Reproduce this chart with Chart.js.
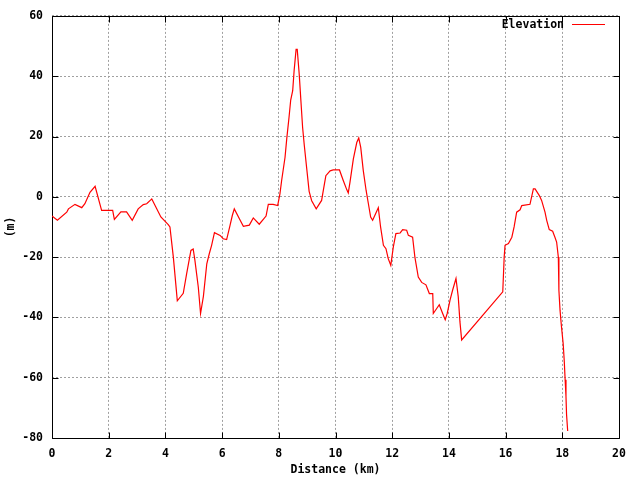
<!DOCTYPE html>
<html>
<head>
<meta charset="utf-8">
<script src="https://cdn.jsdelivr.net/npm/chart.js@4/dist/chart.umd.min.js"></script>
<style>
  html, body { margin: 0; padding: 0; background: #fff; }
  #wrap { width: 640px; height: 480px; }
</style>
</head>
<body>
<div id="wrap"><canvas id="c" width="640" height="480"></canvas></div>
<script>
const seriesName = "Elevation";
const xTitle = "Distance (km)";
const yTitle = "(m)";
const distanceKm = [
  0, 0.19, 0.52, 0.58, 0.81, 1.05, 1.16, 1.34, 1.52, 1.75, 2.14, 2.2, 2.43, 2.63, 2.83, 3.04, 3.22, 3.34, 3.52, 3.84,
  4.1, 4.16, 4.28, 4.37, 4.42, 4.63, 4.75, 4.9, 4.98, 5.04, 5.16, 5.24, 5.34, 5.46, 5.55, 5.63, 5.73, 5.93, 6.04, 6.16,
  6.28, 6.36, 6.43, 6.61, 6.75, 6.96, 7.1, 7.31, 7.55, 7.63, 7.8, 7.96, 8.04, 8.1, 8.22, 8.28, 8.36, 8.42, 8.49, 8.54,
  8.61, 8.65, 8.72, 8.78, 8.84, 8.9, 8.98, 9.07, 9.16, 9.32, 9.51, 9.59, 9.66, 9.81, 9.92, 10.14, 10.27, 10.4, 10.45, 10.51,
  10.63, 10.75, 10.82, 10.89, 10.98, 11.08, 11.16, 11.24, 11.31, 11.51, 11.59, 11.69, 11.78, 11.86, 11.95, 12.04, 12.13, 12.28, 12.37, 12.51,
  12.57, 12.72, 12.8, 12.92, 13.04, 13.19, 13.31, 13.43, 13.45, 13.66, 13.78, 13.87, 13.94, 14.04, 14.13, 14.25, 14.33, 14.39, 14.45, 15.9,
  15.95, 15.98, 16.1, 16.22, 16.3, 16.39, 16.51, 16.57, 16.86, 16.98, 17.04, 17.19, 17.27, 17.39, 17.45, 17.54, 17.66, 17.74, 17.8, 17.86,
  17.88, 17.92, 17.97, 18.03, 18.07, 18.1, 18.13, 18.15, 18.19
];
const elevationM = [
  -6.4, -7.8, -5.1, -4, -2.5, -3.6, -2.3, 1.5, 3.5, -4.5, -4.5, -7.5, -5, -5, -7.8, -4, -2.6, -2.3, -0.7, -6.7,
  -9.2, -10, -20, -29.3, -34.5, -32, -25.5, -17.8, -17.3, -21, -29.9, -38.7, -33, -22.2, -18.8, -16.1, -11.9, -12.8, -13.9, -14.2,
  -9.5, -6.2, -4, -7.3, -9.8, -9.4, -7.0, -9.1, -6.4, -2.5, -2.5, -2.9, 1, 5.4, 13.1, 19.2, 26.3, 32.1, 35.2, 41.8,
  48.9, 48.9, 40.7, 31.8, 23, 17, 9.8, 1.8, -1.3, -4, -1.2, 3.2, 7, 8.6, 8.9, 8.9, 5.5, 2.3, 1.3, 4.8,
  12.6, 18, 19.5, 16.4, 8.7, 2.1, -2.3, -6.7, -7.8, -3.6, -10, -16.1, -17.2, -20.5, -22.7, -16.6, -12.2, -12, -10.9, -11.1,
  -12.8, -13.4, -20, -26.6, -28.4, -29.2, -32.1, -32.1, -38.7, -35.8, -38.7, -40.8, -38.7, -34.3, -31, -27.1, -33.2, -41.5, -47.5, -31.5,
  -20, -16.1, -15.5, -13.4, -10, -5.1, -4.3, -2.9, -2.5, 2.6, 2.6, 0.4, -1.2, -5.1, -7.8, -10.9, -11.4, -13.4, -15, -20,
  -31, -37.6, -43, -48.6, -54.6, -60.7, -66.2, -72.2, -77.7
];
const xTicks = [0, 2, 4, 6, 8, 10, 12, 14, 16, 18, 20];
const yTicks = [-80, -60, -40, -20, 0, 20, 40, 60];

const FONT_FAMILY = "'DejaVu Sans Mono', 'Liberation Mono', monospace";
const FONT_SIZE = 11.5;

const points = distanceKm.map((x, i) => ({ x: x, y: elevationM[i] }));

const frame = {
  id: 'frame',
  beforeDatasetsDraw(chart) {
    const { ctx, chartArea: a, scales } = chart;
    const L = Math.round(a.left) + 0.5, R = Math.round(a.right) + 0.5;
    const T = Math.round(a.top) + 0.5, B = Math.round(a.bottom) + 0.5;
    ctx.save();
    ctx.strokeStyle = '#000';
    ctx.lineWidth = 1;
    ctx.setLineDash([]);
    ctx.beginPath();
    ctx.rect(L, T, R - L, B - T);
    const tl = 6;
    xTicks.forEach(v => {
      const px = Math.round(scales.x.getPixelForValue(v)) + 0.5;
      ctx.moveTo(px, B); ctx.lineTo(px, B - tl);
      ctx.moveTo(px, T); ctx.lineTo(px, T + tl);
    });
    yTicks.forEach(v => {
      const py = Math.round(scales.y.getPixelForValue(v)) + 0.5;
      ctx.moveTo(L, py); ctx.lineTo(L + tl, py);
      ctx.moveTo(R, py); ctx.lineTo(R - tl, py);
    });
    ctx.stroke();
    ctx.restore();
  },
  afterDraw(chart) {
    const { ctx } = chart;
    ctx.save();
    ctx.font = 'bold ' + FONT_SIZE + 'px ' + FONT_FAMILY;
    ctx.fillStyle = '#000';
    ctx.textAlign = 'right';
    ctx.textBaseline = 'middle';
    ctx.fillText(seriesName, 564, 25);
    ctx.strokeStyle = '#ff0000';
    ctx.lineWidth = 1;
    ctx.beginPath();
    ctx.moveTo(572, 24.5);
    ctx.lineTo(605, 24.5);
    ctx.stroke();
    ctx.restore();
  }
};

new Chart(document.getElementById('c'), {
  type: 'scatter',
  data: {
    datasets: [{
      label: seriesName,
      data: points,
      showLine: true,
      borderColor: '#ff0000',
      backgroundColor: '#ff0000',
      borderWidth: 1.2,
      pointRadius: 0,
      tension: 0,
      fill: false
    }]
  },
  options: {
    responsive: false,
    animation: false,
    devicePixelRatio: 1,
    layout: { padding: { top: 15, right: 21, left: 0, bottom: 0 } },
    plugins: {
      legend: { display: false },
      tooltip: { enabled: false },
      title: { display: false }
    },
    scales: {
      x: {
        type: 'linear',
        min: 0, max: 20,
        afterBuildTicks: (s) => { s.ticks = xTicks.map(v => ({ value: v })); },
        afterFit: (s) => { s.height = 42; },
        ticks: {
          color: '#000',
          padding: 9,
          maxRotation: 0,
          font: { family: FONT_FAMILY, size: FONT_SIZE, weight: 'bold' }
        },
        grid: { color: '#a0a0a0', drawTicks: false, lineWidth: 1 },
        border: { display: false, dash: [2, 2] },
        title: {
          display: true,
          text: xTitle,
          color: '#000',
          padding: { top: 0, bottom: 3 },
          font: { family: FONT_FAMILY, size: FONT_SIZE, weight: 'bold' }
        }
      },
      y: {
        type: 'linear',
        min: -80, max: 60,
        afterBuildTicks: (s) => { s.ticks = yTicks.map(v => ({ value: v })); },
        afterFit: (s) => { s.width = 52; },
        ticks: {
          color: '#000',
          padding: 9,
          font: { family: FONT_FAMILY, size: FONT_SIZE, weight: 'bold' }
        },
        grid: { color: '#a0a0a0', drawTicks: false, lineWidth: 1 },
        border: { display: false, dash: [2, 2] },
        title: {
          display: true,
          text: yTitle,
          color: '#000',
          padding: { top: 4, bottom: 0 },
          font: { family: FONT_FAMILY, size: FONT_SIZE, weight: 'bold' }
        }
      }
    }
  },
  plugins: [frame]
});
</script>
</body>
</html>
